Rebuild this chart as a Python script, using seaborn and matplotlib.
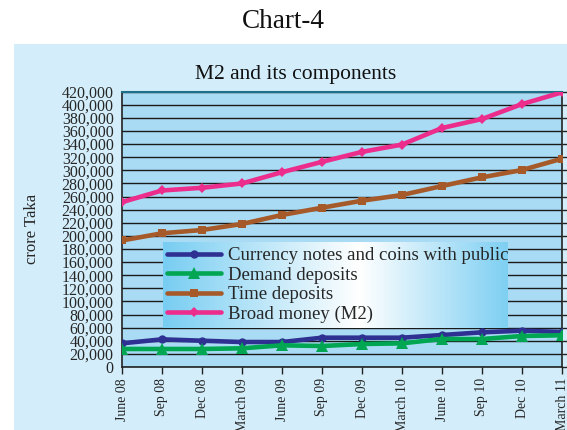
import numpy as np
import pandas as pd
import matplotlib
matplotlib.use("Agg")
import matplotlib.pyplot as plt
import seaborn as sns
from matplotlib.ticker import FuncFormatter, MultipleLocator
from matplotlib.colors import LinearSegmentedColormap

periods = ["June 08", "Sep 08", "Dec 08", "March 09", "June 09", "Sep 09",
           "Dec 09", "March 10", "June 10", "Sep 10", "Dec 10", "March 11"]
currency = [36100, 42200, 40100, 38100, 38100, 44700, 44700, 44700, 48800, 52900, 55400, 53400]
demand = [27500, 27500, 27500, 28500, 33100, 32000, 35100, 36100, 42700, 42700, 47300, 48400]
time_dep = [193000, 204000, 209000, 218200, 231900, 243000, 253700, 262400, 276100, 289400, 300500, 317800]
m2 = [251500, 269300, 273400, 280000, 297200, 313000, 328200, 339300, 364600, 378300, 401100, 419000]
series_names = ["Currency notes and coins with public", "Demand deposits",
                "Time deposits", "Broad money (M2)"]

sns.set_theme(style="white")
plt.rcParams['font.family'] = ['Liberation Serif', 'DejaVu Serif']

df = pd.DataFrame({
    "period": periods * 4,
    "x": list(range(len(periods))) * 4,
    "value": currency + demand + time_dep + m2,
    "series": sum([[n] * len(periods) for n in series_names], []),
})

colors = ["#2e3192", "#00a651", "#a65a2a", "#ec2d8c"]
markers = ["o", "^", "s", "D"]
msizes = [6, 8, 6, 5]

fig = plt.figure(figsize=(5.67, 4.30), dpi=100)
fig.patch.set_facecolor("white")
panel = fig.add_axes([14/567, 0, 1 - 14/567, 1 - 44/430])
panel.set_facecolor("#d3eefa")
panel.set_xticks([]); panel.set_yticks([])
for s in panel.spines.values():
    s.set_visible(False)
panel.set_zorder(0)

fig.text(0.5, 1 - 22/430, "Chart-4", ha="center", va="center", fontsize=19.5, color="#111111")
fig.text(296/567, 1 - 75/430, "M2 and its components", ha="center", va="center",
         fontsize=15.5, color="#111111")

ax = fig.add_axes([122/567, 1 - 367/430, (562 - 122)/567, (367 - 91.7)/430])
ax.set_zorder(1)
ax.set_facecolor("#a9dcf4")

for name, c, m, ms in zip(series_names, colors, markers, msizes):
    sub = df[df["series"] == name]
    sns.lineplot(data=sub, x="x", y="value", ax=ax, color=c, marker=m,
                 markersize=ms, markeredgewidth=0, linewidth=3.3, label=name,
                 zorder=3)

ax.set_xlim(0, len(periods) - 1)
ax.set_ylim(0, 420000)
ax.yaxis.set_major_locator(MultipleLocator(20000))
ax.yaxis.set_major_formatter(FuncFormatter(lambda v, p: f"{int(v):,}"))
ax.set_xticks(range(len(periods)))
ax.set_xticklabels(periods, rotation=90, fontsize=10)
ax.tick_params(axis="y", labelsize=11.5, length=4, width=1, color="#222222", pad=2,
               right=True, direction="out")
ax.tick_params(axis="x", length=5, width=1, color="#222222", pad=3, bottom=True)
ax.grid(axis="y", color="#1a1a1a", linewidth=1)
ax.set_axisbelow(True)
for side in ["left", "right", "bottom"]:
    ax.spines[side].set_color("#222222")
    ax.spines[side].set_linewidth(1.2)
ax.spines["top"].set_color("#1f6f8b")
ax.spines["top"].set_linewidth(1.5)
ax.set_xlabel("")
ax.set_ylabel("crore Taka", fontsize=12)
ax.yaxis.set_label_coords((40 - 122) / 440, 0.5)

# gradient legend background
lx0, lx1 = (163 - 122) / 440, (508 - 122) / 440
ly0, ly1 = (367 - 328) / 275.3, (367 - 242) / 275.3
g = np.linspace(0, 1, 256)
vals = np.interp(g, [0, 0.25, 0.57, 1.0], [0.0, 0.45, 1.0, 0.05])
cmap = LinearSegmentedColormap.from_list("lg", ["#78cdf2", "#ffffff"])
ax.imshow(vals[np.newaxis, :], extent=[lx0, lx1, ly0, ly1], transform=ax.transAxes,
          cmap=cmap, aspect="auto", zorder=2.5, vmin=0, vmax=1)
ax.set_xlim(0, len(periods) - 1)
ax.set_ylim(0, 420000)

leg = ax.legend(loc="center left", bbox_to_anchor=(lx0 + 0.005, ly0, lx1 - lx0, ly1 - ly0),
                frameon=False, fontsize=13.5, handlelength=2.9, labelspacing=0.12,
                borderaxespad=0.0, borderpad=0.1, handletextpad=0.35)
leg.set_zorder(4)

fig.savefig("out.png", dpi=100, facecolor=fig.get_facecolor())
